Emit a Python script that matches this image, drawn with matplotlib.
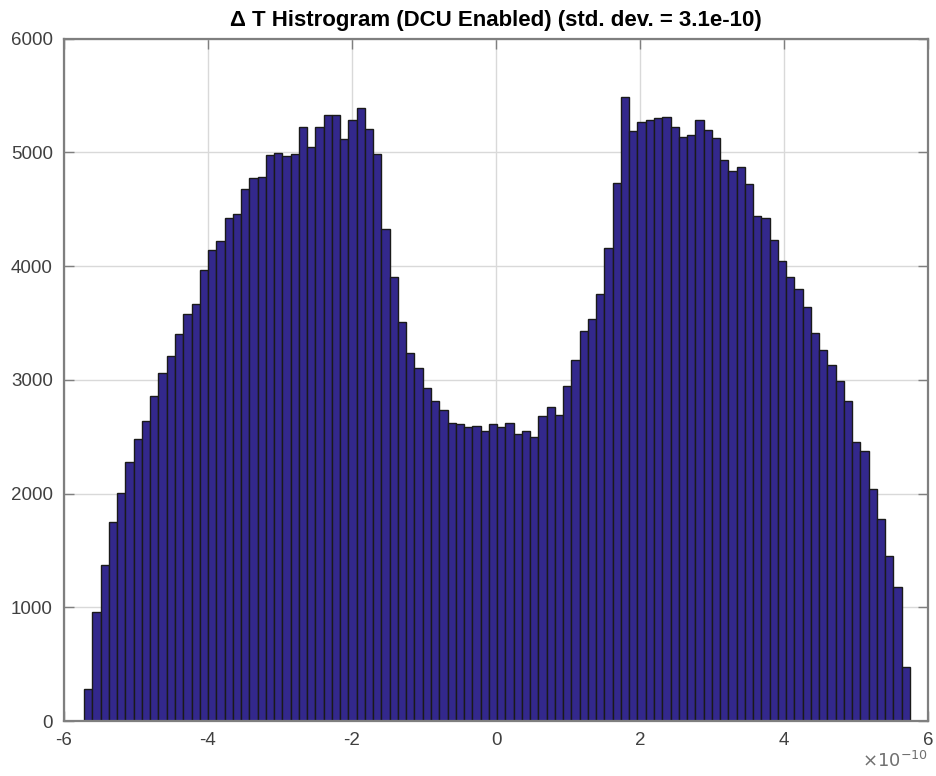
import numpy as np
import matplotlib
matplotlib.use("Agg")
import matplotlib.pyplot as plt
from matplotlib.ticker import FuncFormatter

plt.rcParams['font.family'] = ['Liberation Sans', 'DejaVu Sans']
plt.rcParams['axes.unicode_minus'] = False

# histogram bins (seconds) and counts
bin_lo = -5.72e-10
bin_hi = 5.75e-10
counts = [
    280, 959, 1372, 1749, 2004, 2281, 2475, 2633, 2859, 3057,
    3211, 3405, 3578, 3667, 3969, 4138, 4217, 4422, 4461, 4677,
    4777, 4784, 4975, 4993, 4968, 4986, 5226, 5047, 5226, 5327,
    5327, 5119, 5280, 5388, 5201, 4982, 4328, 3904, 3509, 3233,
    3107, 2927, 2809, 2737, 2622, 2611, 2586, 2597, 2550, 2611,
    2586, 2622, 2522, 2550, 2496, 2683, 2759, 2694, 2945, 3172,
    3430, 3538, 3754, 4156, 4734, 5485, 5190, 5262, 5280, 5298,
    5309, 5226, 5136, 5154, 5280, 5198, 5126, 4932, 4831, 4867,
    4723, 4443, 4425, 4231, 4048, 3904, 3800, 3639, 3412, 3258,
    3132, 2992, 2812, 2453, 2371, 2040, 1778, 1448, 1175, 478,
]
title = "\u0394 T Histrogram (DCU Enabled) (std. dev. = 3.1e-10)"
x_scale = 1e-10

edges = np.linspace(bin_lo, bin_hi, len(counts) + 1)
centers = (edges[:-1] + edges[1:]) / 2

fig = plt.figure(figsize=(9.36, 7.76), dpi=100)
ax = fig.add_axes([64 / 936, 1 - 721 / 776, (928 - 64) / 936, (721 - 38.5) / 776])

ax.hist(centers, bins=edges, weights=counts, color="#33288c",
        edgecolor="#1a1a1a", linewidth=1.0)

ax.set_xlim(-6 * x_scale, 6 * x_scale)
ax.set_ylim(0, 6000)
ax.set_xticks(np.arange(-6, 7, 2) * x_scale)
ax.set_yticks(np.arange(0, 6001, 1000))
ax.xaxis.set_major_formatter(FuncFormatter(lambda v, p: "%g" % round(v / x_scale, 6)))

ax.set_axisbelow(True)
ax.grid(True, color="#d9d9d9", linewidth=1.0)

gray = "#7f7f7f"
for s in ax.spines.values():
    s.set_color(gray)
    s.set_linewidth(1.6)
ax.tick_params(direction="in", length=7, width=1.0, color=gray,
               labelcolor="#404040", labelsize=13.5,
               top=True, right=True)
ax.tick_params(axis="x", pad=8)
ax.tick_params(axis="y", pad=8)

# exponent label under the right end of the x axis
ax.text(1.0, -0.068, r"$\times10^{-10}$", transform=ax.transAxes,
        ha="right", va="baseline", fontsize=13, color="#707070")

ax.set_title(title, fontsize=16, fontweight="bold", pad=9)

fig.savefig("out.png", dpi=100)
